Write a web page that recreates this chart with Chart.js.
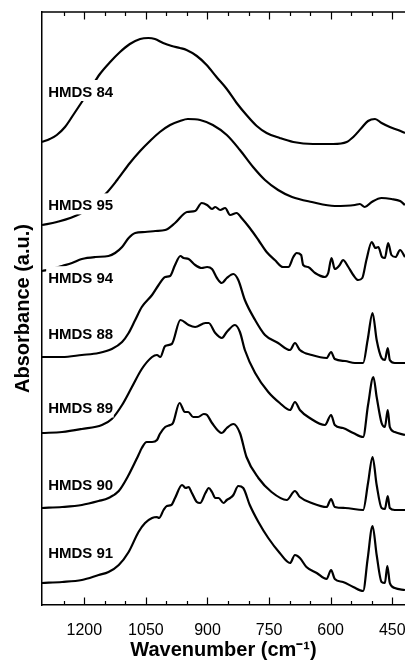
<!DOCTYPE html>
<html><head><meta charset="utf-8">
<script src="https://cdn.jsdelivr.net/npm/chart.js@4.4.1/dist/chart.umd.min.js"></script>
<style>html,body{margin:0;padding:0;background:#fff}canvas{display:block}</style>
</head><body>
<canvas id="c" width="405" height="662"></canvas>
<script>
// ---- data (wavenumber in cm-1, absorbance in arbitrary offset units) ----
const curveNames = ['HMDS 84','HMDS 95','HMDS 94','HMDS 88','HMDS 89','HMDS 90','HMDS 91'];

const wn84 = [1303,1284,1267,1247,1227,1206,1184,1162,1137,1113,1089,1064,1044,1028,1008,987,967,951,926,902,878,853,829,805,780,756,724,691,643,594,561,545,525,509,492,476,456,436,419];
const ab84 = [463,466,470,478,490,503,517,531,543,553,561,566,567,566,562,559,557,555,549,540,528,516,502,490,479,472,467,463,461,461,463,468,477,484,486,482,478,475,472];

const wn95 = [1303,1267,1211,1179,1146,1120,1089,1064,1040,1016,991,967,948,918,887,853,821,789,760,728,694,646,590,541,529,517,500,476,452,431,419];
const ab95 = [380,383,391,400,412,425,442,454,464,473,480,484,486,485,480,470,455,438,425,415,408,403,399,400,401,398,403,407,406,404,400];

const wn94 = [1303,1279,1254,1230,1206,1173,1141,1125,1108,1092,1076,1052,1027,1003,979,950,930,914,901,889,881,869,857,845,829,817,797,776,756,736,716,703,691,683,672,667,655,638,614,606,598,590,578,570,557,545,533,523,513,500,491,484,475,468,460,452,442,431,419];
const ab94 = [334,336,339,342,346,348,349,352,358,367,372,373,374,375,382,393,394,402,400,396,398,395,397,390,392,387,377,365,353,345,338,338,348,352,350,340,338,332,328,332,347,336,340,345,338,330,325,327,345,363,357,358,348,347,362,350,348,355,348];

const wn88 = [1303,1254,1206,1165,1133,1108,1092,1076,1060,1035,1019,1003,991,979,966,958,946,930,914,901,889,877,865,853,837,825,809,784,760,728,699,687,675,646,610,599,590,565,541,521,510,498,488,476,468,461,456,444,419];
const ab88 = [248,248,250,252,256,263,272,285,298,310,320,328,329,340,349,347,346,340,337,338,336,327,322,327,331,325,305,285,270,262,255,262,255,250,247,253,246,244,242,242,265,292,265,247,245,257,245,242,242];

const wn89 = [1303,1254,1206,1157,1133,1108,1084,1060,1035,1023,1015,1003,987,966,946,930,905,897,881,865,853,833,821,809,784,752,724,699,687,675,651,614,599,590,570,545,521,509,496,488,476,468,461,456,444,419];
const ab89 = [172,173,176,180,186,200,218,236,248,250,248,259,261,285,280,278,282,282,272,267,273,280,273,255,232,213,202,195,203,195,187,180,190,180,177,172,168,200,228,208,182,178,195,178,173,170];

const wn90 = [1303,1254,1206,1165,1141,1116,1092,1068,1060,1048,1035,1023,1016,1003,991,984,968,955,947,935,923,909,901,889,865,853,837,821,805,776,744,707,687,675,646,610,599,590,565,521,509,498,488,476,468,461,456,444,419];
const ab90 = [97,98,100,104,107,114,130,150,157,163,163,165,171,178,180,182,202,193,193,188,188,191,190,182,172,177,181,172,148,127,113,105,114,108,102,98,106,98,97,95,122,148,120,97,96,109,97,95,95];

const wn91 = [1303,1254,1206,1165,1141,1116,1092,1068,1052,1035,1023,1018,1007,999,988,979,962,953,946,938,926,918,905,897,889,881,873,861,853,845,837,825,813,797,776,752,724,699,687,675,659,634,610,599,590,570,545,521,510,498,488,476,468,462,456,444,419];
const ab91 = [22,23,25,30,33,40,53,73,82,87,88,87,95,99,100,107,120,117,118,112,103,102,112,117,113,107,107,102,105,107,110,119,117,100,83,67,52,42,50,47,38,32,26,35,26,23,18,14,46,79,50,23,22,39,22,17,15];

const xTickValues = [1250,1200,1150,1100,1050,1000,950,900,850,800,750,700,650,600,550,500,450];
const xLabelValues = [1200,1050,900,750,600,450];

// label anchors (data coordinates): left wavenumber, vertical centre
const labelWn = 1288;
const labelY = [513.7,400.3,327.5,271.2,197.2,120.5,52];

// ---- build ----
const wnSets = [wn84,wn95,wn94,wn88,wn89,wn90,wn91];
const abSets = [ab84,ab95,ab94,ab88,ab89,ab90,ab91];
const FONT = '"Liberation Sans", Arial, Helvetica, sans-serif';
Chart.defaults.font.family = FONT;
Chart.defaults.color = '#000';

const datasets = curveNames.map((n,i)=>({
  label:n,
  data: wnSets[i].map((w,k)=>({x:w,y:abSets[i][k]})),
  borderColor:'#000',
  borderWidth:2.2,
  pointRadius:0,
  fill:false,
  cubicInterpolationMode:'monotone'
}));

const curveLabels = {
  id:'curveLabels',
  afterDatasetsDraw(chart){
    const {ctx, scales:{x,y}} = chart;
    ctx.save();
    ctx.font = 'bold 15px ' + FONT;
    ctx.textBaseline = 'alphabetic';
    curveNames.forEach((name,i)=>{
      const lx = x.getPixelForValue(labelWn);
      const cy = y.getPixelForValue(labelY[i]);
      const w = ctx.measureText(name).width;
      ctx.fillStyle = '#fff';
      ctx.fillRect(lx-2, cy-11.3, w+2.5, 21);
      ctx.fillStyle = '#000';
      ctx.fillText(name, lx, cy+5.4);
    });
    ctx.restore();
  }
};

const frameTicks = {
  id:'frameTicks',
  afterDraw(chart){
    const {ctx, chartArea:a, scales:{x}} = chart;
    ctx.save();
    ctx.strokeStyle = '#000';
    ctx.lineWidth = 1.5;
    ctx.beginPath();
    ctx.moveTo(a.left, a.top);
    ctx.lineTo(a.right, a.top);
    ctx.stroke();
    ctx.lineWidth = 1.2;
    xTickValues.forEach(v=>{
      const px = Math.round(x.getPixelForValue(v)) + 0.5;
      const len = xLabelValues.includes(v) ? 7.5 : 4;
      ctx.beginPath();
      ctx.moveTo(px, a.bottom); ctx.lineTo(px, a.bottom - len);
      ctx.moveTo(px, a.top); ctx.lineTo(px, a.top + len);
      ctx.stroke();
    });
    ctx.restore();
  }
};

new Chart(document.getElementById('c'), {
  type:'line',
  data:{datasets},
  plugins:[curveLabels, frameTicks],
  options:{
    responsive:false,
    devicePixelRatio:1,
    animation:false,
    layout:{padding:{left:0,right:0,top:12,bottom:0}},
    plugins:{legend:{display:false},tooltip:{enabled:false}},
    scales:{
      x:{
        type:'linear', reverse:true, min:419, max:1303, position:'bottom',
        grid:{display:false},
        border:{display:true,color:'#000',width:1.5},
        ticks:{font:{size:16},padding:8,color:'#000',maxRotation:0,autoSkip:false,
          callback:(v)=>String(v)},
        afterBuildTicks:(s)=>{ s.ticks = xLabelValues.map(v=>({value:v})); },
        title:{display:true,text:'Wavenumber (cm\u207B\u00B9)',font:{size:20,weight:'bold'},color:'#000',padding:{top:0,bottom:0}},
        afterFit:(s)=>{ s.height = 57; s.paddingLeft = 0; s.paddingRight = 0; }
      },
      y:{
        type:'linear', min:0, max:593, position:'left',
        grid:{display:false},
        border:{display:true,color:'#000',width:1.5},
        ticks:{display:false},
        title:{display:true,text:'Absorbance (a.u.)',font:{size:20,weight:'bold'},color:'#000',padding:{top:11,bottom:0}},
        afterFit:(s)=>{ s.width = 42; s.paddingTop = 0; s.paddingBottom = 0; }
      }
    }
  }
});
</script>
</body></html>
